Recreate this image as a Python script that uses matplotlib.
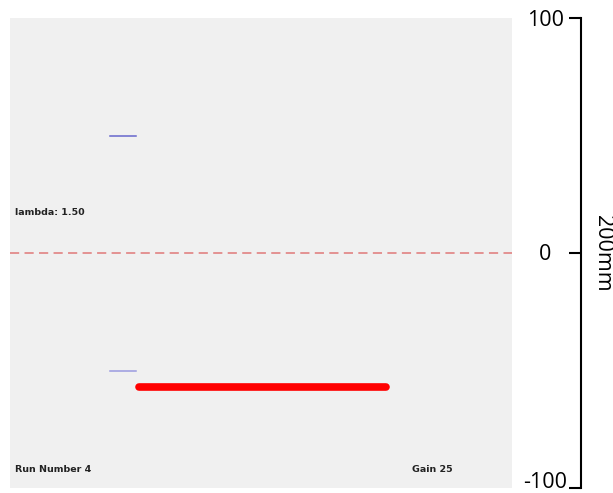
import matplotlib.pyplot as plt
import matplotlib.transforms as mtransforms

# scale markers (mm)
y_ticks = [100, 0, -100]
y_range_label = "200mm"

# blue reference marks (x start, x end, y)
blue_x = [20, 25]
blue_y_top = 50
blue_y_bottom = -50

# red measured bar
red_x = [25.6, 75]
red_y = -57

zero_line_y = 0

labels = {
    "lambda": "lambda: 1.50",
    "run": "Run Number 4",
    "gain": "Gain 25",
}

fig = plt.figure(figsize=(6.13, 4.93), dpi=100)
W, H = 613, 493

# grey panel
ax = fig.add_axes([10 / W, 5 / H, 502 / W, 470 / H])
ax.set_facecolor("#f0f0f0")
ax.set_xlim(0, 100)
ax.set_ylim(-100, 100)
for s in ax.spines.values():
    s.set_visible(False)
ax.set_xticks([])
ax.set_yticks([])

ax.axhline(zero_line_y, color="#e07878", linewidth=1.1, dashes=(6, 3.5))
ax.plot(blue_x, [blue_y_top] * 2, color="#6666cc", linewidth=1.1)
ax.plot(blue_x, [blue_y_bottom] * 2, color="#9a9ae0", linewidth=1.1)
ax.plot(red_x, [red_y] * 2, color="#ff0000", linewidth=5.5, solid_capstyle="round")

txt = dict(fontsize=6.8, fontweight="bold", color="#222222", va="center", family="DejaVu Sans")
ax.text(1, 17.4, labels["lambda"], **txt)
ax.text(1, -92, labels["run"], **txt)
ax.text(80, -92, labels["gain"], **txt)

# scale bar on the right
sax = fig.add_axes([581 / W, 5 / H, 0.0001, 470 / H])
sax.set_ylim(-100, 100)
sax.set_xticks([])
sax.patch.set_visible(False)
for k in ["top", "bottom", "left"]:
    sax.spines[k].set_visible(False)
sax.spines["right"].set_linewidth(1.5)
sax.yaxis.set_ticks_position("right")
sax.set_yticks(y_ticks)
sax.tick_params(axis="y", direction="in", length=9, width=1.5,
                labelright=False, labelleft=False)

# tick labels, centred left of the bar, nudged inward at the ends
nudge = {100: -3, 0: -1, -100: 5}
for v in y_ticks:
    off = mtransforms.ScaledTranslation(-(581 - 545) / 100, nudge[v] / 100, fig.dpi_scale_trans)
    tr = mtransforms.blended_transform_factory(sax.transAxes, sax.transData) + off
    sax.text(1, v, str(v), transform=tr, ha="center", va="center",
             fontsize=15.5, family="Open Sans", clip_on=False)

fig.text(602 / W, 1 - 253 / H, y_range_label, rotation=270, fontsize=15.5,
         family="Open Sans", ha="center", va="center")

fig.savefig("out.png", dpi=100)
